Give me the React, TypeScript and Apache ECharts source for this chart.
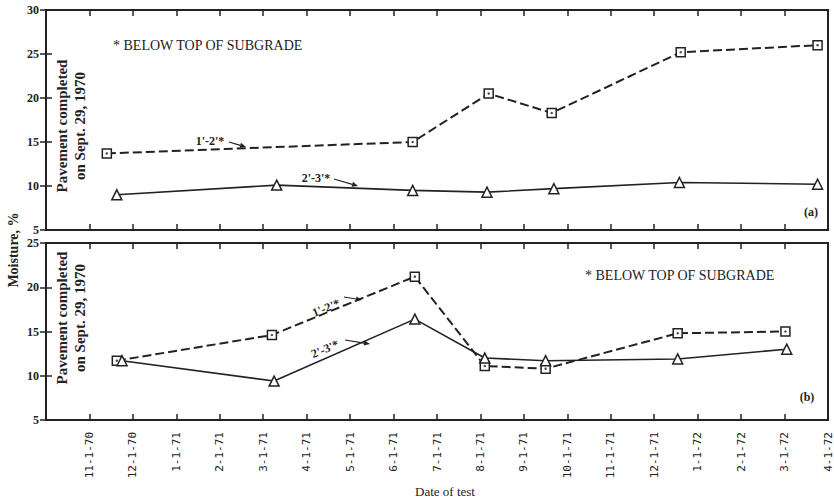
import React, { useEffect, useRef } from 'react';
import * as echarts from 'echarts';

// Tick labels for months 1..18 after 10-1-70 (axis starts at 10-1-70 = 0)
const monthLabels = ['11-1-70', '12-1-70', '1-1-71', '2-1-71', '3-1-71', '4-1-71', '5-1-71', '6-1-71', '7-1-71', '8-1-71', '9-1-71', '10-1-71', '11-1-71', '12-1-71', '1-1-72', '2-1-72', '3-1-72', '4-1-72'];

// (a) panel — test dates as months after 10-1-70, moisture %
const aDepth12X = [1.4, 8.44, 10.19, 11.64, 14.61, 17.76];
const aDepth12Y = [13.7, 15.0, 20.5, 18.3, 25.2, 26.0];
const aDepth23X = [1.63, 5.31, 8.44, 10.15, 11.69, 14.58, 17.76];
const aDepth23Y = [9.0, 10.1, 9.5, 9.3, 9.7, 10.4, 10.2];

// (b) panel
const bDepth12X = [1.63, 5.2, 8.49, 10.1, 11.5, 14.54, 17.02];
const bDepth12Y = [11.7, 14.6, 21.2, 11.1, 10.8, 14.8, 15.0];
const bDepth23X = [1.75, 5.25, 8.49, 10.1, 11.5, 14.54, 17.05];
const bDepth23Y = [11.7, 9.4, 16.4, 12.0, 11.7, 11.9, 13.0];

const INK = '#222';
const SERIF = '"Liberation Serif", "DejaVu Serif", serif';

const zip = (xs: number[], ys: number[]) => xs.map((x, i) => [x, ys[i]]);

function arrow(x1: number, y1: number, x2: number, y2: number) {
  const a = Math.atan2(y2 - y1, x2 - x1);
  const L = 6, w = 2.6;
  const bx = x2 - L * Math.cos(a), by = y2 - L * Math.sin(a);
  return [
    { type: 'line', z: 100, shape: { x1, y1, x2: bx, y2: by }, style: { stroke: INK, lineWidth: 1.2 } },
    {
      type: 'polygon', z: 100,
      shape: { points: [[x2, y2], [bx + w * Math.sin(a), by - w * Math.cos(a)], [bx - w * Math.sin(a), by + w * Math.cos(a)]] },
      style: { fill: INK },
    },
  ];
}

function txt(text: string, x: number, y: number, font: string, rotation = 0, align = 'center', lineHeight?: number) {
  const style: any = { text, x: 0, y: 0, align, verticalAlign: 'middle', font, fill: INK };
  if (lineHeight) style.lineHeight = lineHeight;
  return { type: 'text', z: 100, x, y, rotation, style };
}

function xAxes(gridIndex: number, withLabels: boolean) {
  const base = {
    type: 'value', gridIndex, min: 0, max: 18, interval: 1,
    axisLine: { show: false }, splitLine: { show: false },
    axisTick: { inside: true, length: 6, lineStyle: { color: INK, width: 1.5 } },
  };
  return [
    {
      ...base, position: 'bottom',
      axisLabel: withLabels
        ? {
            show: true, rotate: 90, margin: 12, fontSize: 11, color: INK,
            fontFamily: '"DejaVu Sans Mono", monospace',
            formatter: (v: number) => (v >= 1 ? monthLabels[Math.round(v) - 1] : ''),
          }
        : { show: false },
    },
    { ...base, position: 'top', axisLabel: { show: false } },
  ];
}

function yAxes(gridIndex: number, max: number) {
  const base = {
    type: 'value', gridIndex, min: 5, max, interval: 5,
    axisLine: { show: false }, splitLine: { show: false },
    axisTick: { inside: true, length: 6, lineStyle: { color: INK, width: 1.5 } },
  };
  return [
    {
      ...base, position: 'left',
      axisLabel: { show: true, margin: 7, fontSize: 12, fontWeight: 'bold', color: INK, fontFamily: SERIF },
    },
    { ...base, position: 'right', axisLabel: { show: false } },
  ];
}

function seriesFor(xi: number, yi: number, d12: number[][], d23: number[][]) {
  return [
    {
      type: 'line', xAxisIndex: xi, yAxisIndex: yi, data: d12,
      symbol: 'rect', symbolSize: 9,
      lineStyle: { color: INK, width: 2, type: [9, 4] },
      itemStyle: { color: '#fff', borderColor: INK, borderWidth: 1.5 },
      z: 3,
    },
    {
      type: 'scatter', xAxisIndex: xi, yAxisIndex: yi, data: d12,
      symbol: 'circle', symbolSize: 2.5, itemStyle: { color: INK }, z: 5, silent: true,
    },
    {
      type: 'line', xAxisIndex: xi, yAxisIndex: yi, data: d23,
      symbol: 'triangle', symbolSize: 10,
      lineStyle: { color: INK, width: 1.6 },
      itemStyle: { color: '#fff', borderColor: INK, borderWidth: 1.5 },
      z: 4,
    },
  ];
}

export default function App() {
  const ref = useRef<HTMLDivElement>(null);
  useEffect(() => {
    if (!ref.current) return;
    const chart = echarts.init(ref.current, undefined, { renderer: 'svg' });
    const pav = 'bold 15px ' + SERIF;
    const small = 'bold 12px ' + SERIF;
    chart.setOption({
      animation: false,
      backgroundColor: '#fff',
      grid: [
        { left: 46, top: 10, width: 782, height: 220, show: true, borderColor: INK, borderWidth: 2, backgroundColor: 'transparent' },
        { left: 46, top: 243, width: 782, height: 177, show: true, borderColor: INK, borderWidth: 2, backgroundColor: 'transparent' },
      ],
      xAxis: [...xAxes(0, false), ...xAxes(1, true)],
      yAxis: [...yAxes(0, 30), ...yAxes(1, 25)],
      series: [
        ...seriesFor(0, 0, zip(aDepth12X, aDepth12Y), zip(aDepth23X, aDepth23Y)),
        ...seriesFor(2, 2, zip(bDepth12X, bDepth12Y), zip(bDepth23X, bDepth23Y)),
      ],
      graphic: [
        txt('* BELOW TOP OF SUBGRADE', 113, 45, '14px ' + SERIF, 0, 'left'),
        txt('* BELOW TOP OF SUBGRADE', 585, 275, '14px ' + SERIF, 0, 'left'),
        txt('(a)', 811, 212, 'bold 12px ' + SERIF),
        txt('(b)', 807, 397, 'bold 12px ' + SERIF),
        txt('Pavement completed\non Sept. 29, 1970', 71, 126, pav, Math.PI / 2, 'center', 18),
        txt('Pavement completed\non Sept. 29, 1970', 71, 318, pav, Math.PI / 2, 'center', 18),
        txt('Moisture, %', 13, 250, 'bold 14px ' + SERIF, Math.PI / 2),
        txt('Date of test', 445, 491, '13px ' + SERIF),
        txt("1'-2'*", 210, 141, small),
        ...arrow(229, 142, 246, 147),
        txt("2'-3'*", 316, 178, small),
        ...arrow(334, 179, 358, 186),
        txt("1'-2'*", 326, 308, small, 0.38),
        ...arrow(344, 297, 362, 300),
        txt("2'-3'*", 325, 349, small, 0.4),
        ...arrow(345, 340, 370, 344),
      ],
    });
    return () => chart.dispose();
  }, []);
  return <div ref={ref} style={{ position: 'absolute', left: 0, top: 0, width: 834, height: 501 }} />;
}
